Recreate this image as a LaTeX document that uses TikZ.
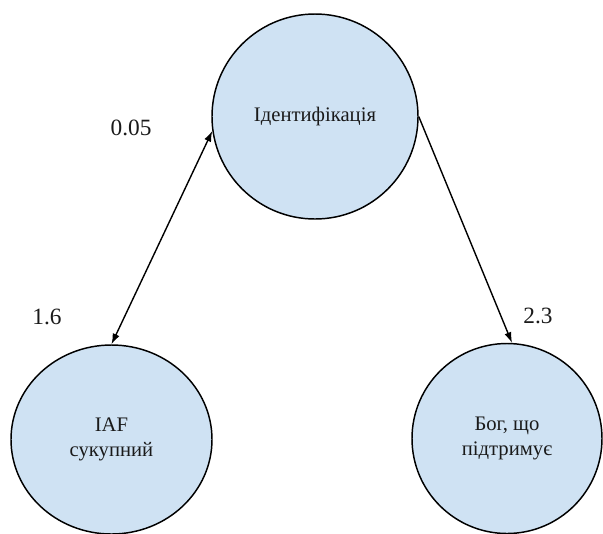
\documentclass[tikz,border=0pt]{standalone}
\usepackage{fontspec}
\setmainfont{Liberation Serif}
\usetikzlibrary{shapes.geometric,arrows.meta}
\definecolor{nodefill}{HTML}{CFE2F3}
\definecolor{ink}{HTML}{1A1A1A}
\tikzset{
  bubble/.style={ellipse, draw=black, line width=1.1pt, fill=nodefill, inner sep=0pt,
    align=center, text=ink, font=\fontsize{15.5}{19}\selectfont},
  conn/.style={line width=1.05pt, draw=black},
  numlabel/.style={text=ink, font=\fontsize{17.5}{20}\selectfont, inner sep=0pt}
}
\begin{document}
\begin{tikzpicture}[x=0.75pt,y=-0.75pt]
\useasboundingbox (0,0) rectangle (603,533);
\clip (0,0) rectangle (603,533);
\fill[white] (0,0) rectangle (603,533);
\node[bubble, minimum width=154.5pt, minimum height=153.75pt] (top) at (315,116.5) {Ідентифікація};
\node[bubble, minimum width=150.75pt, minimum height=141.75pt] (left) at (111.5,439.5) {IAF\\сукупний};
\node[bubble, minimum width=142.5pt, minimum height=142.5pt] (right) at (507,438.5) {Бог, що\\підтримує};
\draw[conn, {Latex[length=8pt,width=5.5pt]}-{Latex[length=8pt,width=5.5pt]}] (top.188) -- (left.north);
\draw[conn, -{Latex[length=8pt,width=5.5pt]}] (top.east) -- (right.87);
\node[numlabel] (l1) at (131,128) {0.05};
\node[numlabel] (l2) at (47,317) {1.6};
\node[numlabel] (l3) at (538,316) {2.3};
\end{tikzpicture}
\end{document}
